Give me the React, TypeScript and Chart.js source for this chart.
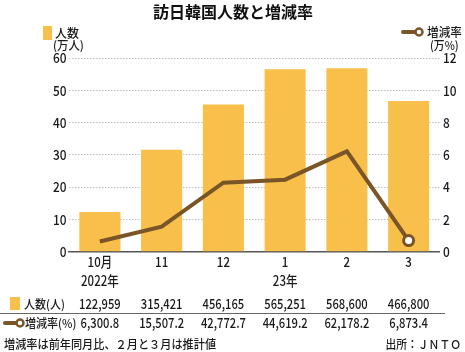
import React, { useEffect, useRef } from "react";
import { Chart, registerables } from "chart.js";

Chart.register(...registerables);

const categories: string[][] = [["10月", "2022年"], ["11"], ["12"], ["1", "23年"], ["2"], ["3"]];
const visitors: number[] = [122959, 315421, 456165, 565251, 568600, 466800];
const growthPct: number[] = [6300.8, 15507.2, 42772.7, 44619.2, 62178.2, 6873.4];
const visitorLabels: string[] = ["122,959", "315,421", "456,165", "565,251", "568,600", "466,800"];
const growthLabels: string[] = ["6,300.8", "15,507.2", "42,772.7", "44,619.2", "62,178.2", "6,873.4"];

const BAR = "#F8BF4A";
const LINE = "#7A5528";
const TXT = "#1a1a1a";
const JP_FONT = '"Noto Sans CJK JP", sans-serif';

export default function App() {
  const ref = useRef<HTMLCanvasElement | null>(null);
  useEffect(() => {
    document.body.style.margin = "0";
    const canvas = ref.current;
    if (!canvas) return;

    const overlay = {
      id: "overlay",
      afterDraw(chart: any) {
        const ctx = chart.ctx as CanvasRenderingContext2D;
        const xs = chart.scales.x;
        const ys = chart.scales.y;
        const y1s = chart.scales.y1;
        const cond = (text: string, x: number, y: number, align: CanvasTextAlign, size: number, sx: number, weight = "500") => {
          ctx.save();
          ctx.translate(x, y);
          ctx.scale(sx, 1);
          ctx.font = `${weight} ${size}px ${JP_FONT}`;
          ctx.textAlign = align;
          ctx.textBaseline = "middle";
          ctx.fillText(text, 0, 0);
          ctx.restore();
        };
        ctx.save();
        ctx.fillStyle = TXT;

        // axis tick labels from the library's scales
        ys.ticks.forEach((t: any) => cond(String(t.value), 66.5, ys.getPixelForValue(t.value), "right", 14, 0.85));
        y1s.ticks.forEach((t: any) => cond(String(t.value), 443, y1s.getPixelForValue(t.value), "left", 14, 0.85));
        categories.forEach((lines, i) => {
          const x = xs.getPixelForValue(i);
          lines.forEach((s, j) => cond(s, x, 262 + j * 19, "center", 14, 0.82));
        });

        // title
        ctx.fillStyle = "#111";
        cond("訪日韓国人数と増減率", 233, 12, "center", 16, 1, "bold");
        ctx.fillStyle = TXT;

        // left legend
        ctx.fillStyle = BAR;
        ctx.fillRect(43, 26, 9, 14);
        ctx.fillStyle = TXT;
        cond("人数", 55, 33, "left", 12, 1);
        cond("(万人)", 53, 45, "left", 12, 0.95);

        const drawIcon = (x0: number, cx: number, y: number) => {
          ctx.save();
          ctx.strokeStyle = LINE;
          ctx.lineWidth = 4;
          ctx.lineCap = "round";
          ctx.beginPath();
          ctx.moveTo(x0, y);
          ctx.lineTo(cx - 3, y);
          ctx.stroke();
          ctx.beginPath();
          ctx.arc(cx, y, 3.5, 0, Math.PI * 2);
          ctx.fillStyle = "#fff";
          ctx.fill();
          ctx.lineWidth = 2.5;
          ctx.stroke();
          ctx.restore();
        };
        // right legend
        drawIcon(403, 419, 32);
        ctx.fillStyle = TXT;
        cond("増減率", 427, 32, "left", 12, 0.97);
        cond("(万%)", 430, 45, "left", 12, 0.9);

        // table
        ctx.fillStyle = BAR;
        ctx.fillRect(10, 297, 10, 13);
        ctx.fillStyle = TXT;
        cond("人数(人)", 24, 304, "left", 12, 0.92);
        drawIcon(5, 20, 323);
        ctx.fillStyle = TXT;
        cond("増減率(%)", 25, 323, "left", 12, 0.92);

        visitorLabels.forEach((s, i) => cond(s, xs.getPixelForValue(i), 304, "center", 14, 0.8));
        growthLabels.forEach((s, i) => cond(s, xs.getPixelForValue(i), 323, "center", 14, 0.8));

        ctx.strokeStyle = "#666";
        ctx.lineWidth = 1;
        ctx.beginPath();
        ctx.moveTo(0, 313.5);
        ctx.lineTo(445, 313.5);
        ctx.stroke();

        // footer
        cond("増減率は前年同月比、２月と３月は推計値", 4, 344, "left", 12, 0.93);
        cond("出所：ＪＮＴＯ", 461, 344, "right", 12, 0.9);
        ctx.restore();
      },
    };

    const chart = new Chart(canvas, {
      type: "bar",
      data: {
        labels: categories,
        datasets: [
          {
            type: "line",
            label: "増減率",
            data: growthPct.map((v) => v / 10000),
            yAxisID: "y1",
            borderColor: LINE,
            borderWidth: 4,
            pointRadius: growthPct.map((_, i) => (i === growthPct.length - 1 ? 5 : 0)),
            pointBackgroundColor: "#fff",
            pointBorderColor: LINE,
            pointBorderWidth: 3,
            tension: 0,
            order: 0,
          } as any,
          {
            type: "bar",
            label: "人数",
            data: visitors.map((v) => v / 10000),
            yAxisID: "y",
            backgroundColor: BAR,
            borderWidth: 0,
            categoryPercentage: 1,
            barPercentage: 0.665,
            order: 1,
          },
        ],
      },
      options: {
        responsive: false,
        animation: false,
        devicePixelRatio: 1,
        layout: { padding: { top: 58, bottom: 60.3, left: 0, right: 0 } },
        plugins: { legend: { display: false }, tooltip: { enabled: false }, title: { display: false } },
        scales: {
          x: {
            offset: true,
            grid: { display: false, drawTicks: false },
            border: { display: true, color: "#555", width: 1.5 },
            ticks: { display: false, autoSkip: false, maxRotation: 0 },
            afterFit: (s: any) => {
              s.height = 40;
            },
          },
          y: {
            position: "left",
            min: 0,
            max: 60,
            grid: { color: "#bdbdbd", lineWidth: 1, drawTicks: false },
            border: { display: false, dash: [1.5, 1.5] },
            ticks: { stepSize: 10, display: false },
            afterFit: (s: any) => {
              s.width = 69;
            },
          },
          y1: {
            position: "right",
            min: 0,
            max: 12,
            grid: { display: false, drawTicks: false },
            border: { display: false },
            ticks: { stepSize: 2, display: false },
            afterFit: (s: any) => {
              s.width = 25.5;
            },
          },
        },
      },
      plugins: [overlay],
    });
    return () => chart.destroy();
  }, []);
  return (
    <div style={{ width: 465, height: 352, position: "relative", background: "#fff" }}>
      <canvas ref={ref} width={465} height={352} style={{ display: "block" }} />
    </div>
  );
}
